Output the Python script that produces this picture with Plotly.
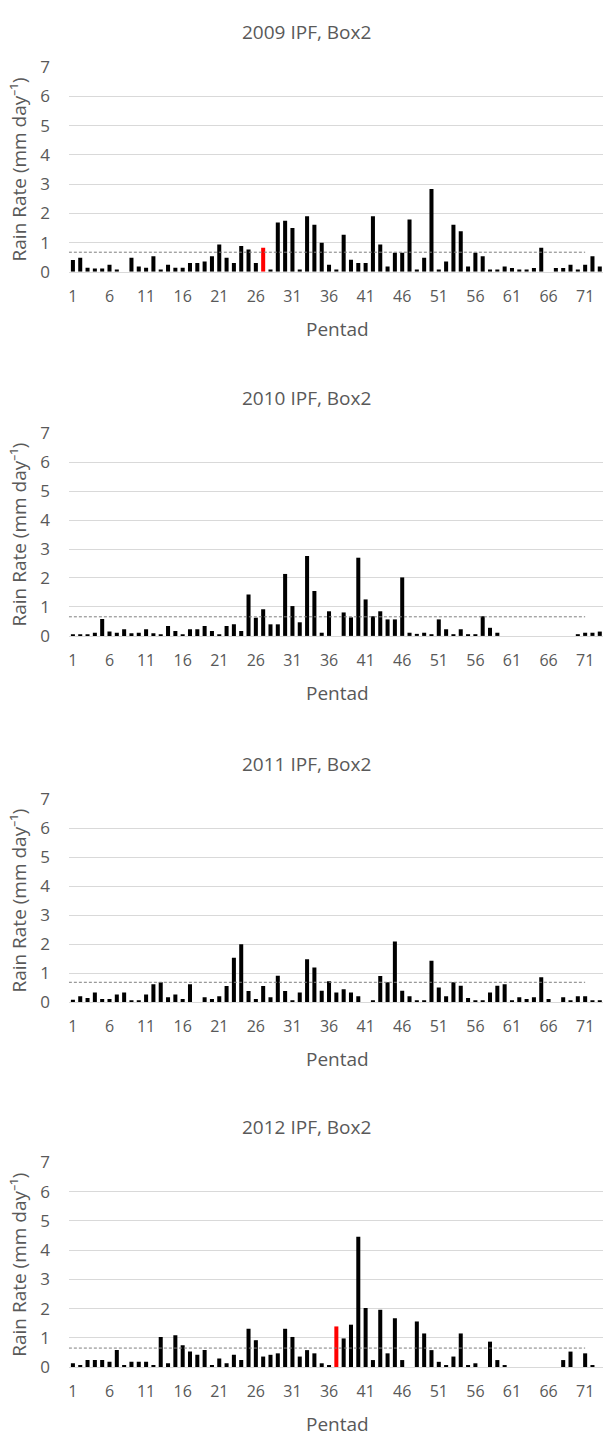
import plotly.graph_objects as go
from plotly.subplots import make_subplots

pentads = list(range(1, 74))
years = ["2009", "2010", "2011", "2012"]

rain_2009 = [0.40, 0.48, 0.14, 0.11, 0.11, 0.24, 0.08, 0.00, 0.48, 0.18,
             0.14, 0.53, 0.08, 0.24, 0.14, 0.14, 0.30, 0.30, 0.35, 0.53,
             0.93, 0.48, 0.30, 0.88, 0.76, 0.30, 0.82, 0.08, 1.69, 1.75,
             1.50, 0.08, 1.90, 1.61, 0.99, 0.24, 0.08, 1.27, 0.41, 0.30,
             0.30, 1.90, 0.93, 0.18, 0.65, 0.65, 1.79, 0.08, 0.48, 2.83,
             0.08, 0.35, 1.61, 1.39, 0.18, 0.65, 0.53, 0.08, 0.08, 0.18,
             0.13, 0.08, 0.08, 0.13, 0.82, 0.00, 0.13, 0.13, 0.24, 0.08,
             0.24, 0.53, 0.18]
rain_2010 = [0.05, 0.05, 0.05, 0.11, 0.58, 0.15, 0.11, 0.23, 0.09, 0.11,
             0.23, 0.09, 0.05, 0.34, 0.17, 0.05, 0.23, 0.23, 0.34, 0.17,
             0.05, 0.34, 0.40, 0.17, 1.43, 0.63, 0.92, 0.40, 0.40, 2.14,
             1.03, 0.47, 2.76, 1.55, 0.11, 0.85, 0.00, 0.81, 0.64, 2.70,
             1.26, 0.68, 0.85, 0.57, 0.57, 2.02, 0.11, 0.07, 0.11, 0.05,
             0.57, 0.23, 0.05, 0.23, 0.05, 0.05, 0.68, 0.28, 0.11, 0.00,
             0.00, 0.00, 0.00, 0.00, 0.00, 0.00, 0.00, 0.00, 0.00, 0.05,
             0.11, 0.11, 0.15]
rain_2011 = [0.08, 0.20, 0.14, 0.33, 0.10, 0.10, 0.26, 0.33, 0.06, 0.06,
             0.26, 0.61, 0.68, 0.16, 0.26, 0.10, 0.61, 0.00, 0.16, 0.10,
             0.20, 0.55, 1.53, 1.99, 0.38, 0.10, 0.55, 0.16, 0.91, 0.38,
             0.06, 0.33, 1.48, 1.19, 0.39, 0.72, 0.33, 0.44, 0.33, 0.20,
             0.00, 0.04, 0.90, 0.68, 2.09, 0.39, 0.20, 0.03, 0.03, 1.42,
             0.50, 0.20, 0.68, 0.56, 0.14, 0.06, 0.06, 0.33, 0.56, 0.61,
             0.06, 0.16, 0.10, 0.16, 0.85, 0.10, 0.00, 0.16, 0.06, 0.20,
             0.20, 0.06, 0.06]
rain_2012 = [0.13, 0.07, 0.24, 0.24, 0.24, 0.18, 0.58, 0.07, 0.18, 0.18,
             0.18, 0.07, 1.03, 0.13, 1.09, 0.75, 0.53, 0.42, 0.58, 0.07,
             0.29, 0.13, 0.42, 0.24, 1.31, 0.92, 0.36, 0.42, 0.47, 1.31,
             1.03, 0.36, 0.58, 0.47, 0.13, 0.07, 1.39, 0.98, 1.45, 4.46,
             2.02, 0.24, 1.96, 0.47, 1.67, 0.24, 0.00, 1.56, 1.15, 0.58,
             0.18, 0.07, 0.36, 1.15, 0.07, 0.13, 0.00, 0.87, 0.24, 0.07,
             0.00, 0.00, 0.00, 0.00, 0.00, 0.00, 0.00, 0.24, 0.53, 0.00,
             0.47, 0.07, 0.00]
series = [rain_2009, rain_2010, rain_2011, rain_2012]

# highlighted (red) pentad per year, None if none
highlight = [27, None, None, 37]
# dashed reference level per panel
ref_level = [0.67, 0.66, 0.68, 0.65]
ref_end = 71.0

xtick_vals = list(range(1, 74, 5))
ytick_vals = [0, 1, 2, 3, 4, 5, 6, 7]

W, H = 603, 1445
plot_left = 68
bottoms = [264, 634, 1006, 1377]
tops = [56, 428, 800, 1169]
txt = "#595959"
FONT = "Open Sans"

fig = make_subplots(rows=4, cols=1)

for i, (yr, vals) in enumerate(zip(years, series)):
    colors = ["#FF0000" if p == highlight[i] else "#000000" for p in pentads]
    fig.add_trace(go.Bar(x=pentads, y=vals, marker_color=colors, marker_line_width=0,
                         width=0.55, showlegend=False, hoverinfo="x+y"),
                  row=i + 1, col=1)
    xa = "xaxis" if i == 0 else f"xaxis{i+1}"
    ya = "yaxis" if i == 0 else f"yaxis{i+1}"
    fig.layout[xa].update(
        domain=[plot_left / W, 1.0], range=[0.45, 73.44],
        tickmode="array", tickvals=xtick_vals, ticktext=[str(v) for v in xtick_vals],
        showgrid=False, showline=True, linecolor="#D9D9D9", linewidth=1,
        ticks="", ticklabelstandoff=10, zeroline=False,
        tickfont=dict(family=FONT, size=16, color=txt))
    fig.layout[ya].update(
        domain=[1 - bottoms[i] / H, 1 - tops[i] / H], range=[0, 7],
        tickmode="array", tickvals=ytick_vals,
        showgrid=True, gridcolor="#D9D9D9", gridwidth=1, zeroline=False,
        showline=False, ticks="", ticklabelstandoff=18,
        tickfont=dict(family=FONT, size=17, color=txt))
    xref = "x" if i == 0 else f"x{i+1}"
    yref = "y" if i == 0 else f"y{i+1}"
    fig.add_shape(type="line", xref=xref, yref=yref, x0=0.45, x1=ref_end,
                  y0=ref_level[i], y1=ref_level[i],
                  line=dict(color="#7F7F7F", width=1, dash="3px,2px"))
    # panel title
    fig.add_annotation(text=f"{yr} IPF, Box2", xref="paper", yref="paper",
                       x=306 / W, y=1 - (tops[i] - 36) / H, showarrow=False,
                       xanchor="center", yanchor="middle",
                       font=dict(family=FONT, size=19, color=txt))
    # x-axis title
    fig.add_annotation(text="Pentad", xref="paper", yref="paper",
                       x=337 / W, y=1 - (bottoms[i] + 58) / H, showarrow=False,
                       xanchor="center", yanchor="middle",
                       font=dict(family=FONT, size=19, color=txt))
    # y-axis title
    fig.add_annotation(text="Rain Rate (mm day\u207b\u00b9)", xref="paper", yref="paper",
                       x=18 / W, y=1 - ((tops[i] + bottoms[i]) / 2) / H, showarrow=False,
                       textangle=-90, xanchor="center", yanchor="middle",
                       font=dict(family=FONT, size=19, color=txt))

fig.update_layout(width=W, height=H, margin=dict(l=0, r=0, t=0, b=0),
                  paper_bgcolor="white", plot_bgcolor="white", bargap=0.4)

fig.write_html("out.html", config={"displayModeBar": False},
               post_script="document.body.style.margin='0';")
